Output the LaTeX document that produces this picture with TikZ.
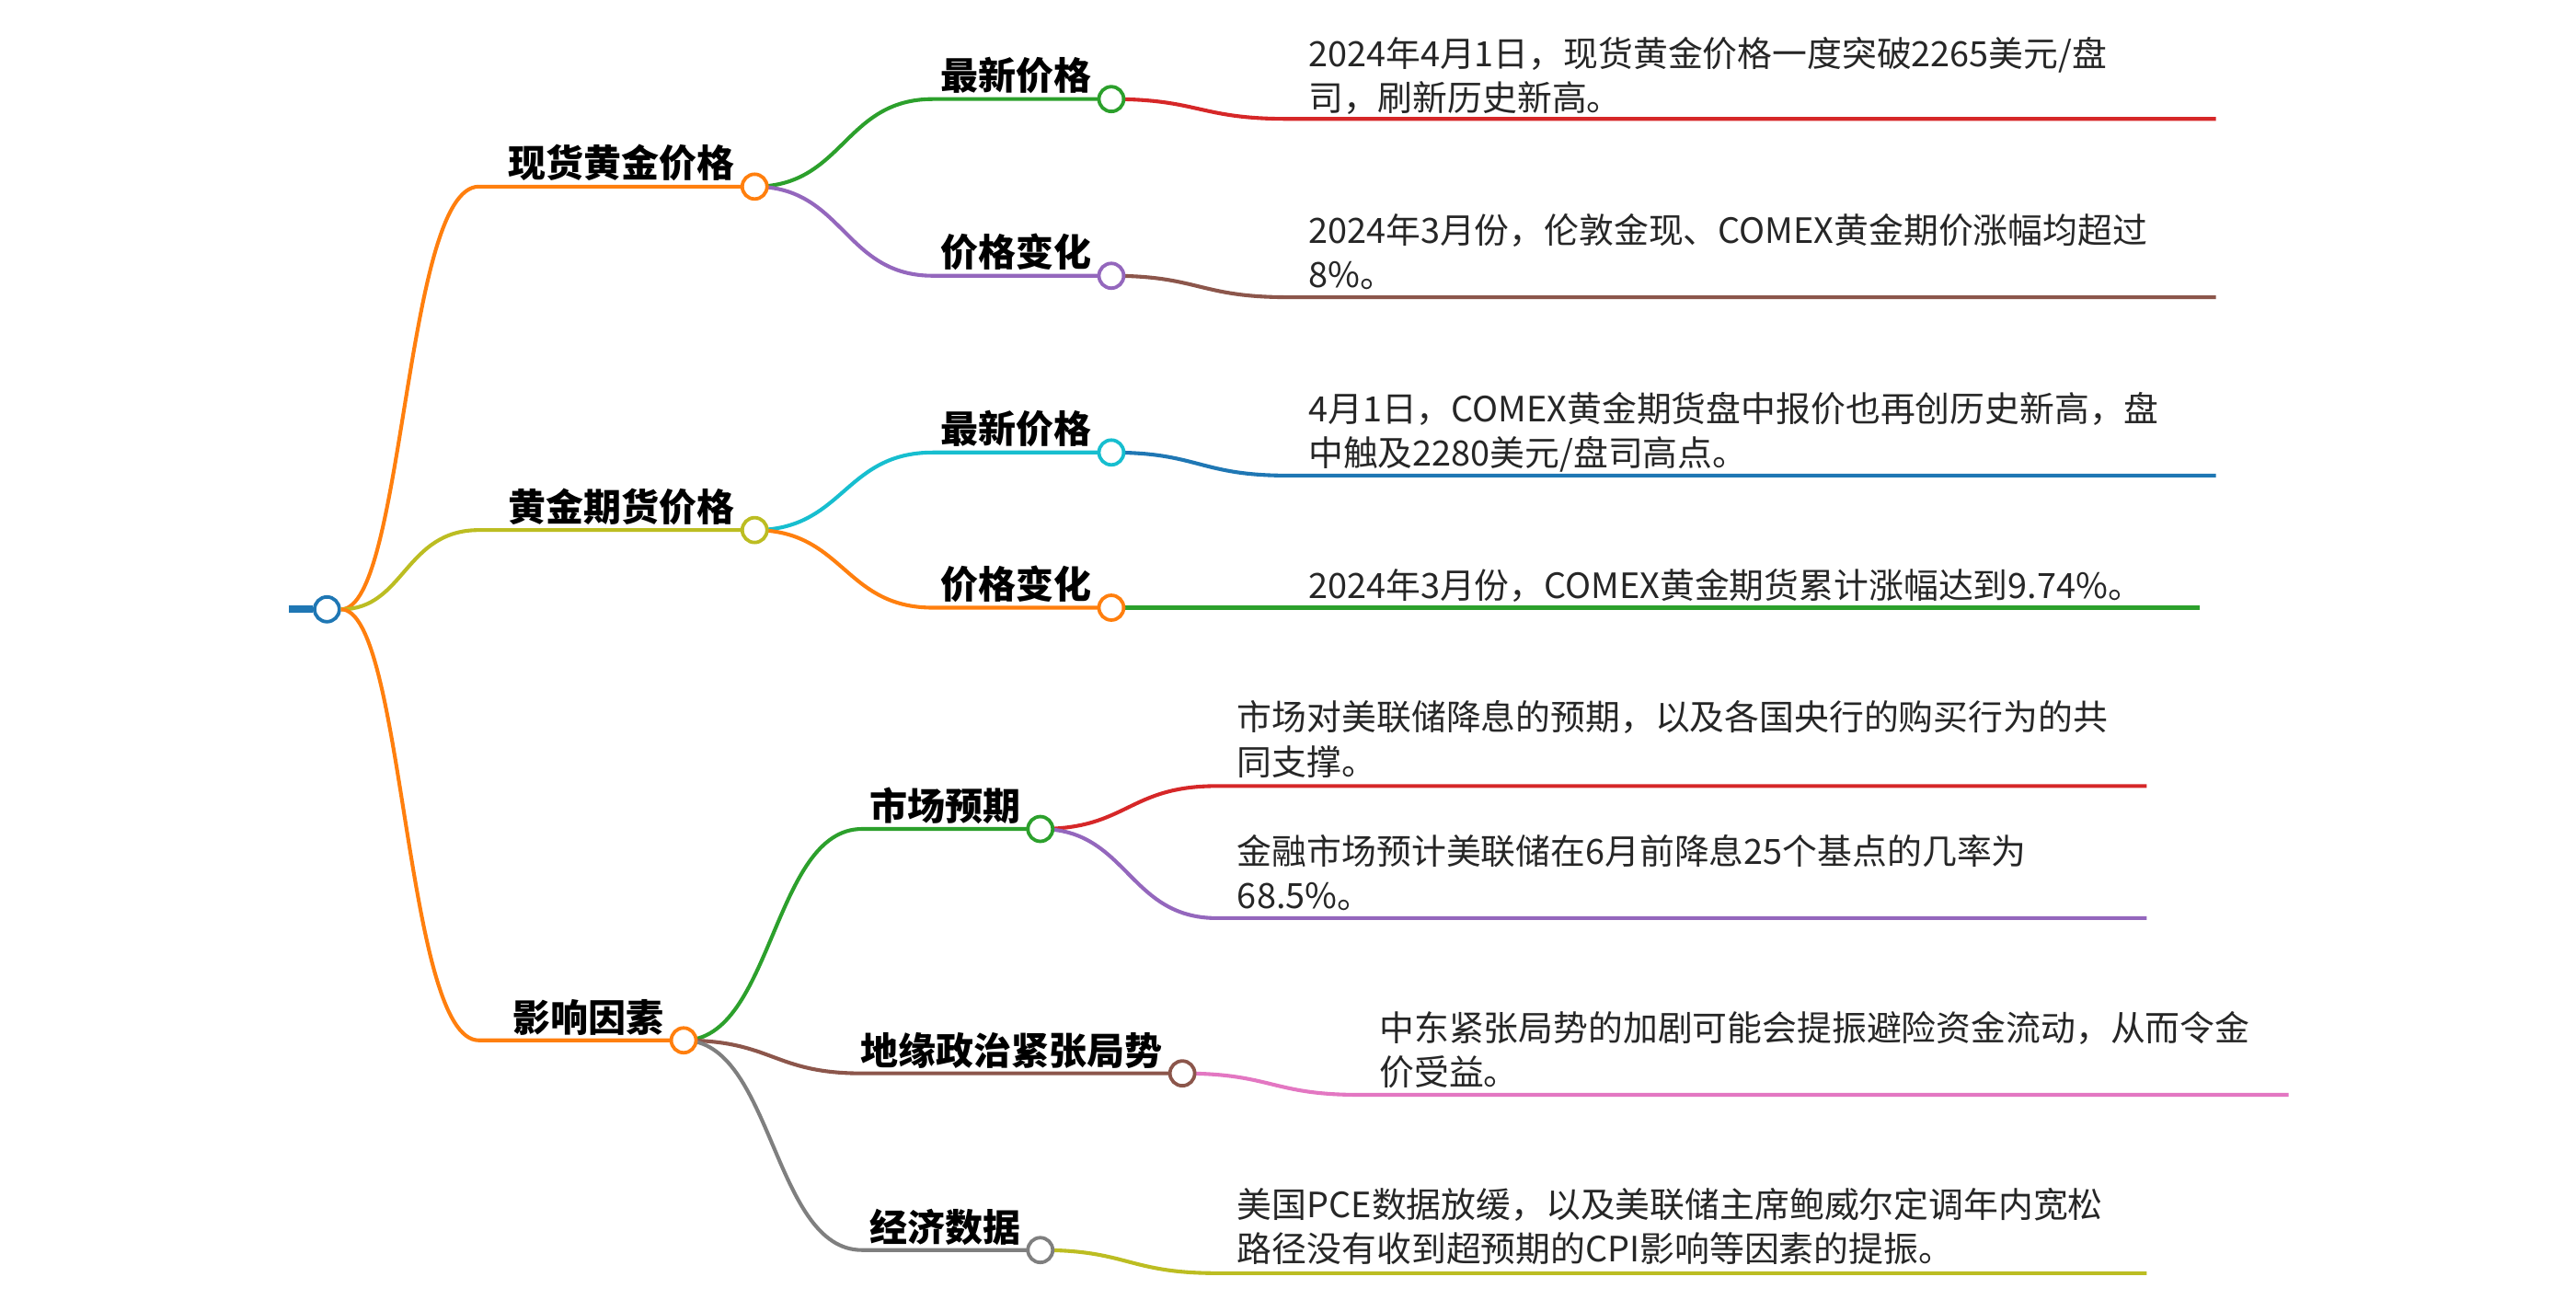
\documentclass[tikz,border=0pt]{standalone}
\usepackage{fontspec}
\setmainfont{Noto Sans CJK SC}
\definecolor{tO}{HTML}{FF7F0E}\definecolor{tY}{HTML}{BCBD22}\definecolor{tG}{HTML}{2CA02C}
\definecolor{tP}{HTML}{9467BD}\definecolor{tR}{HTML}{D62728}\definecolor{tB}{HTML}{8C564B}
\definecolor{tC}{HTML}{17BECF}\definecolor{tBl}{HTML}{1F77B4}\definecolor{tK}{HTML}{E377C2}
\definecolor{tGr}{HTML}{7F7F7F}
\begin{document}
\begin{tikzpicture}[x=0.02cm,y=-0.02cm,
 dot/.style={circle,draw,fill=white,line width=1.2pt,minimum size=0.3cm,inner sep=0pt},
 br/.style={line width=1.3pt},
 lab/.style={anchor=south east,inner sep=1pt,font=\fontsize{13}{15}\selectfont\bfseries},
 leaf/.style={anchor=north west,inner sep=0pt,align=left,font=\fontsize{12}{15.3}\selectfont,text=black!85}]
\useasboundingbox (0,0) rectangle (1560,787);
% coordinates
\coordinate (r0) at (175,369);
\node[dot,draw=tBl] (r) at (198,369) {};
\coordinate (a0) at (290,113); \coordinate (b0) at (290,321); \coordinate (c0) at (290,630);
\coordinate (a) at (457,113); \coordinate (b) at (457,321); \coordinate (c) at (414,630);
\coordinate (a10) at (565,60); \coordinate (a1) at (673,60);
\coordinate (a20) at (565,167); \coordinate (a2) at (673,167);
\coordinate (b10) at (565,274); \coordinate (b1) at (673,274);
\coordinate (b20) at (565,368); \coordinate (b2) at (673,368);
\coordinate (c10) at (522,502); \coordinate (c1) at (630,502);
\coordinate (c20) at (522,650); \coordinate (c2) at (716,650);
\coordinate (c30) at (522,757); \coordinate (c3) at (630,757);
\coordinate (la1) at (780,72); \coordinate (la1e) at (1342,72);
\coordinate (la2) at (780,180); \coordinate (la2e) at (1342,180);
\coordinate (lb1) at (780,288); \coordinate (lb1e) at (1342,288);
\coordinate (lb2e) at (1332,368);
\coordinate (lc1) at (737,476); \coordinate (lc1e) at (1300,476);
\coordinate (lc2) at (737,556); \coordinate (lc2e) at (1300,556);
\coordinate (lc3) at (823,663); \coordinate (lc3e) at (1386,663);
\coordinate (lc4) at (737,771); \coordinate (lc4e) at (1300,771);
\draw[tBl,line width=2.5pt] (r0) -- (r.west);
% level 1
\draw[br,tO] (r.east) .. controls (245,369) and (245,113) .. (a0) -- (a);
\draw[br,tY] (r.east) .. controls (245,369) and (245,321) .. (b0) -- (b);
\draw[br,tO] (r.east) .. controls (245,369) and (245,630) .. (c0) -- (c);
% level 2
\draw[br,tG] (a) .. controls (511,113) and (511,60) .. (a10) -- (a1);
\draw[br,tP] (a) .. controls (511,113) and (511,167) .. (a20) -- (a2);
\draw[br,tC] (b) .. controls (511,321) and (511,274) .. (b10) -- (b1);
\draw[br,tO] (b) .. controls (511,321) and (511,368) .. (b20) -- (b2);
\draw[br,tG] (c) .. controls (468,630) and (468,502) .. (c10) -- (c1);
\draw[br,tB] (c) .. controls (468,630) and (468,650) .. (c20) -- (c2);
\draw[br,tGr] (c) .. controls (468,630) and (468,757) .. (c30) -- (c3);
% leaves
\draw[br,tR] (a1) .. controls (726,60) and (726,72) .. (la1) -- (la1e);
\draw[br,tB] (a2) .. controls (726,167) and (726,180) .. (la2) -- (la2e);
\draw[br,tBl] (b1) .. controls (726,274) and (726,288) .. (lb1) -- (lb1e);
\draw[br,tG] (b2) -- (lb2e);
\draw[br,tR] (c1) .. controls (683,502) and (683,476) .. (lc1) -- (lc1e);
\draw[br,tP] (c1) .. controls (683,502) and (683,556) .. (lc2) -- (lc2e);
\draw[br,tK] (c2) .. controls (770,650) and (770,663) .. (lc3) -- (lc3e);
\draw[br,tY] (c3) .. controls (683,757) and (683,771) .. (lc4) -- (lc4e);
% circles
\node[dot,draw=tO] (na) at (a) {};
\node[dot,draw=tY] (nb) at (b) {};
\node[dot,draw=tO] (nc) at (c) {};
\node[dot,draw=tG] (na1) at (a1) {};
\node[dot,draw=tP] (na2) at (a2) {};
\node[dot,draw=tC] (nb1) at (b1) {};
\node[dot,draw=tO] (nb2) at (b2) {};
\node[dot,draw=tG] (nc1) at (c1) {};
\node[dot,draw=tB] (nc2) at (c2) {};
\node[dot,draw=tGr] (nc3) at (c3) {};
% labels
\node[lab] (ta) at (447,112) {现货黄金价格};
\node[lab] (tb) at (447,320) {黄金期货价格};
\node[lab] (tc) at (404,629) {影响因素};
\node[lab] (ta1) at (663,59) {最新价格};
\node[lab] (ta2) at (663,166) {价格变化};
\node[lab] (tb1) at (663,273) {最新价格};
\node[lab] (tb2) at (663,367) {价格变化};
\node[lab] (tc1) at (620,501) {市场预期};
\node[lab] (tc2) at (706,649) {地缘政治紧张局势};
\node[lab] (tc3) at (620,756) {经济数据};
% leaf texts
\node[leaf] (xa1) at (792,22) {2024年4月1日，现货黄金价格一度突破2265美元/盘\\司，刷新历史新高。};
\node[leaf] (xa2) at (792,129) {2024年3月份，伦敦金现、COMEX黄金期价涨幅均超过\\8\%。};
\node[leaf] (xb1) at (792,237) {4月1日，COMEX黄金期货盘中报价也再创历史新高，盘\\中触及2280美元/盘司高点。};
\node[leaf] (xb2) at (792,344) {2024年3月份，COMEX黄金期货累计涨幅达到9.74\%。};
\node[leaf] (xc1) at (749,424) {市场对美联储降息的预期，以及各国央行的购买行为的共\\同支撑。};
\node[leaf] (xc2) at (749,505) {金融市场预计美联储在6月前降息25个基点的几率为\\68.5\%。};
\node[leaf] (xc3) at (835,612) {中东紧张局势的加剧可能会提振避险资金流动，从而令金\\价受益。};
\node[leaf] (xc4) at (749,719) {美国PCE数据放缓，以及美联储主席鲍威尔定调年内宽松\\路径没有收到超预期的CPI影响等因素的提振。};
\end{tikzpicture}
\end{document}
